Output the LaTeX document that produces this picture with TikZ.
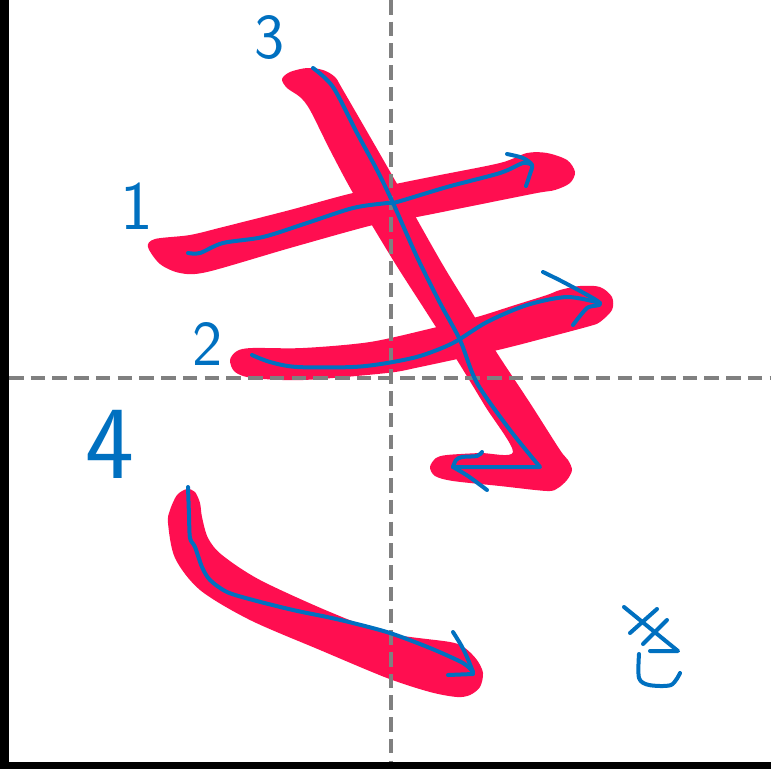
\documentclass[tikz,border=0pt]{standalone}
\usetikzlibrary{calc}
\definecolor{strokered}{HTML}{FF0E50}
\definecolor{penblue}{HTML}{0070C0}
\definecolor{guidegrey}{HTML}{808080}
\begin{document}
\begin{tikzpicture}[x=0.75pt,y=-0.75pt,
  inkstroke/.style={fill=strokered,draw=none},
  pen/.style={draw=penblue,line width=3pt,line cap=round,line join=round},
  guide/.style={draw=guidegrey,line width=3pt,dash pattern=on 10.9pt off 5.4pt},
  numlabel/.style={text=penblue,inner sep=0pt}]
\useasboundingbox (0,0) rectangle (771,769);
\fill[white] (0,0) rectangle (771,769);
% frame
\fill[black] (0,0) rectangle (9,769);
\fill[black] (0,762) rectangle (771,769);
% red strokes
\fill[inkstroke] plot[smooth cycle,tension=0.5] coordinates {(148,247) (155,239) (190,235) (223,227) (290,210) (353,193) (430,177) (500,163) (527,153) (547,153) (567,160) (575,172) (570,183) (555,190) (537,193) (477,205) (417,217) (373,225) (290,248) (207,272) (180,273) (160,264)};
\fill[inkstroke] plot[smooth cycle,tension=0.5] coordinates {(230,360) (237,351) (252,348) (303,348) (370,342) (433,328) (477,317) (512,306) (547,295) (560,290) (580,286) (600,287) (612,297) (612,310) (600,322) (590,326) (545,338) (498,350) (420,367) (387,373) (303,380) (253,378) (235,372)};
\fill[inkstroke] plot[smooth cycle,tension=0.5] coordinates {(282,79) (290,72) (307,68) (323,70) (335,77) (343,90) (392,175) (440,260) (468,306) (497,353) (530,403) (560,450) (568,460) (572,470) (567,480) (558,488) (547,491) (500,486) (453,481) (435,476) (430,467) (436,458) (447,455) (480,453) (513,452) (485,406) (457,360) (425,310) (393,260) (353,193) (330,150) (310,110) (300,97) (287,88)};
\fill[inkstroke] plot[smooth cycle,tension=0.5] coordinates {(170,510) (177,495) (187,489) (195,492) (200,503) (202,517) (208,538) (222,555) (260,580) (330,612) (387,633) (450,642) (465,648) (477,660) (483,673) (480,687) (470,695) (457,697) (430,692) (387,678) (320,650) (250,620) (200,590) (175,558) (168,523)};
% guides
\coordinate (vtop) at (391,0);
\coordinate (vbot) at (391,762);
\coordinate (hl) at (9,378);
\coordinate (hr) at (771,378);
\draw[guide] (vtop) -- (vbot);
\draw[guide] (hl) -- (hr);
% blue pen traces
\draw[pen] plot[smooth,tension=0.5] coordinates {(188,253) (200,253) (223,243) (263,237) (307,223) (353,208) (387,203) (397,202) (447,187) (500,173) (523,163) (532,165)};
\draw[pen] plot[smooth,tension=0.5] coordinates {(507,154) (523,158) (532,165) (530,174) (526,186)};
\draw[pen] plot[smooth,tension=0.5] coordinates {(252,355) (270,362) (297,367) (353,367) (387,363) (420,356) (453,343) (487,322) (527,305) (567,297) (600,303)};
\draw[pen] plot[smooth,tension=0.5] coordinates {(543,272) (567,284) (600,303) (587,308) (573,325)};
\draw[pen] plot[smooth,tension=0.5] coordinates {(313,68) (333,87) (357,133) (377,170) (393,203) (417,257) (440,303) (460,340) (477,383) (510,430) (540,467)} -- (453,467);
\draw[pen] plot[smooth,tension=0.5] coordinates {(482,452) (477,456) (462,457) (456,460) (453,467)};
\draw[pen] plot[smooth,tension=0.5] coordinates {(453,467) (468,476) (487,490)};
\draw[pen] plot[smooth,tension=0.5] coordinates {(188,487) (189,515) (190,538) (195,547) (202,567) (210,580) (227,592) (253,600) (293,610) (327,617) (353,623) (390,633) (430,648) (463,663) (473,672)};
\draw[pen] plot[smooth,tension=0.5] coordinates {(453,632) (461,645) (467,657) (473,672)};
\draw[pen] (448,675) -- (473,674);
% mark at lower right
\draw[pen] (624,607) -- (678,651) -- (650,651);
\draw[pen] (657,609) -- (630,633);
\draw[pen] (667,620) -- (643,644);
\draw[pen] plot[smooth,tension=0.5] coordinates {(639,654) (639,678) (649,685) (671,685) (680,673)};
% stroke numbers
\node[numlabel,font=\sffamily\fontsize{52}{52}\selectfont] (n1) at (137,206) {1};
\node[numlabel,font=\sffamily\fontsize{48}{48}\selectfont] (n2) at (208,344) {2};
\node[numlabel,font=\sffamily\fontsize{48}{48}\selectfont] (n3) at (270,38) {3};
\node[numlabel,font=\sffamily\fontsize{78}{78}\selectfont] (n4) at (110,444) {4};
\end{tikzpicture}
\end{document}
